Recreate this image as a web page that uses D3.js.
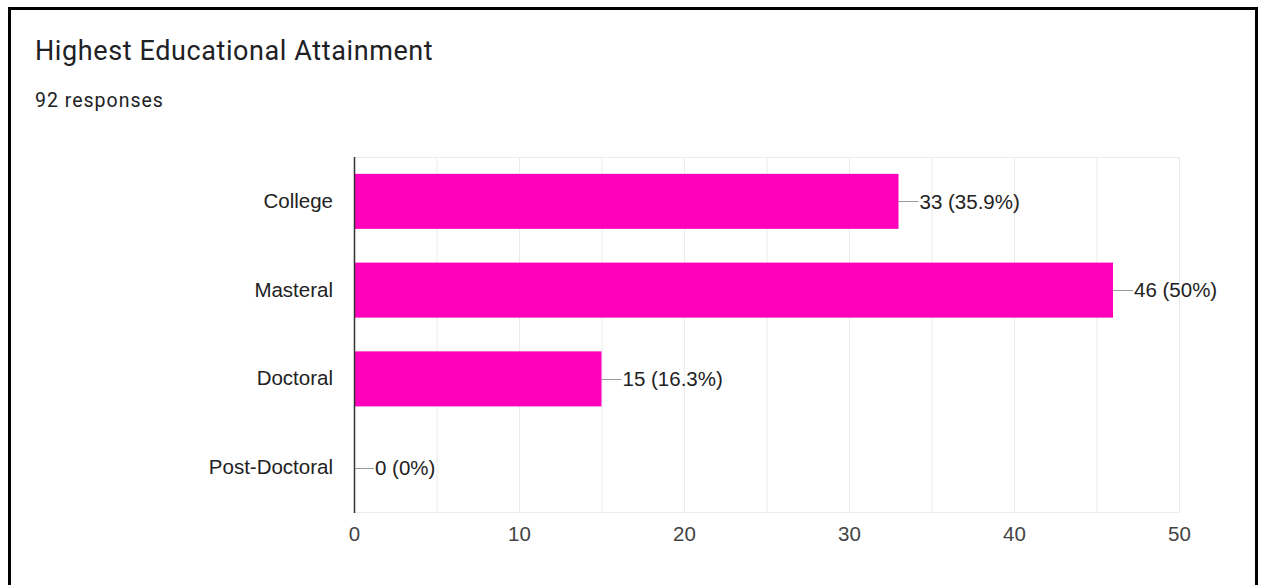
<!DOCTYPE html>
<html><head><meta charset="utf-8">
<script src="https://cdn.jsdelivr.net/npm/d3@7"></script>
<style>
html,body{margin:0;padding:0;background:#fff;}
svg{display:block;}
</style></head>
<body>
<svg id="c" width="1261" height="585"></svg>
<script>
const title = "Highest Educational Attainment";
const subtitle = "92 responses";
const categories = ["College", "Masteral", "Doctoral", "Post-Doctoral"];
const counts = [33, 46, 15, 0];
const percents = ["35.9%", "50%", "16.3%", "0%"];
const xTicks = [0, 10, 20, 30, 40, 50];
const xGrid = [0, 5, 10, 15, 20, 25, 30, 35, 40, 45, 50];

(function () {
const svg = d3.select("#c");
// card frame
svg.append("rect").attr("x", 9.5).attr("y", 8.5).attr("width", 1247).attr("height", 600)
  .attr("fill", "#fff").attr("stroke", "#000").attr("stroke-width", 3);

svg.append("text").attr("x", 35).attr("y", 60).text(title)
  .attr("font-family", "Roboto, Arial, sans-serif").attr("font-size", 27)
  .attr("letter-spacing", 0.6).attr("fill", "#202124");
svg.append("text").attr("x", 35).attr("y", 107).text(subtitle)
  .attr("font-family", "Roboto, Arial, sans-serif").attr("font-size", 19.5)
  .attr("letter-spacing", 1).attr("fill", "#202124");

const pL = 354, pR = 1179, pT = 157, pB = 512;
const x = d3.scaleLinear().domain([0, 50]).range([pL, pR]);
const y = d3.scaleBand().domain(categories).range([pT, pB]).paddingInner(0.38).paddingOuter(0.19);

const font = "Arial, 'Liberation Sans', sans-serif";
const fs = 20.5;

// gridlines
svg.append("g").selectAll("line").data(xGrid).join("line")
  .attr("x1", d => x(d) + 0.5).attr("x2", d => x(d) + 0.5)
  .attr("y1", pT).attr("y2", pB)
  .attr("stroke", "#ebebeb").attr("stroke-width", 1);
svg.append("line").attr("x1", pL).attr("x2", pR).attr("y1", pT + 0.5).attr("y2", pT + 0.5).attr("stroke", "#ebebeb");
svg.append("line").attr("x1", pL).attr("x2", pR).attr("y1", pB + 0.5).attr("y2", pB + 0.5).attr("stroke", "#ebebeb");

// bars
svg.append("g").selectAll("rect").data(categories).join("rect")
  .attr("x", x(0)).attr("y", (d) => y(d))
  .attr("width", (d, i) => x(counts[i]) - x(0))
  .attr("height", y.bandwidth())
  .attr("fill", "#ff00bb");

// leader lines and labels
const lab = svg.append("g");
categories.forEach((c, i) => {
  const cy = y(c) + y.bandwidth() / 2;
  const x0 = x(counts[i]);
  lab.append("line").attr("x1", x0).attr("x2", x0 + 20).attr("y1", Math.round(cy) + 0.5).attr("y2", Math.round(cy) + 0.5)
    .attr("stroke", "#999").attr("stroke-width", 1);
  lab.append("text").attr("x", x0 + 21).attr("y", cy).attr("dy", "0.35em")
    .text(counts[i] + " (" + percents[i] + ")")
    .attr("font-family", font).attr("font-size", fs).attr("fill", "#222");
});

// y axis
const yAxis = d3.axisLeft(y).tickSize(0).tickPadding(21);
const gy = svg.append("g").attr("transform", `translate(${pL},0)`).call(yAxis);
gy.select(".domain").remove();
gy.selectAll("text").attr("font-family", font).attr("font-size", fs).attr("fill", "#222");
svg.append("line").attr("x1", pL + 0.5).attr("x2", pL + 0.5).attr("y1", pT).attr("y2", pB + 1)
  .attr("stroke", "#333").attr("stroke-width", 1.5);

// x axis
const xAxis = d3.axisBottom(x).tickValues(xTicks).tickSize(0).tickPadding(14.5);
const gx = svg.append("g").attr("transform", `translate(0,${pB})`).call(xAxis);
gx.select(".domain").remove();
gx.selectAll("text").attr("font-family", font).attr("font-size", fs).attr("fill", "#444");
})();
</script>
</body></html>
